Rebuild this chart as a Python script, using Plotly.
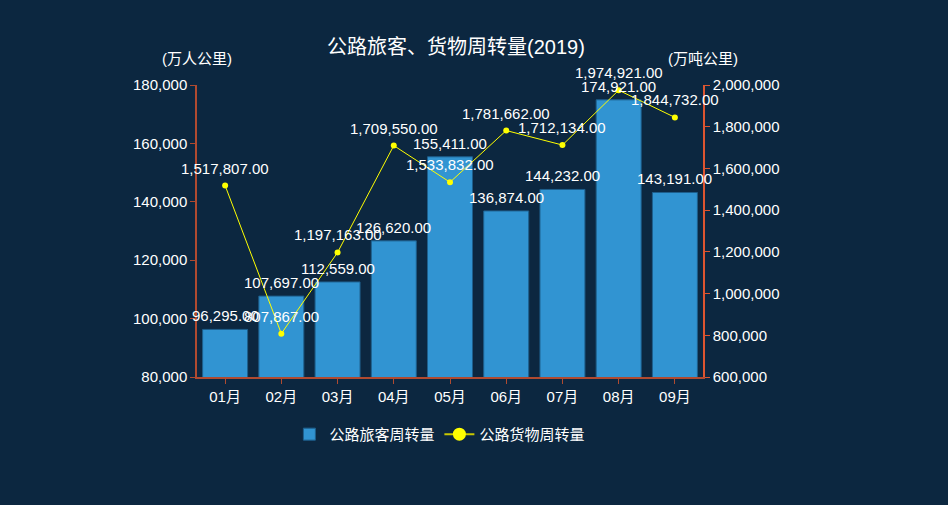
import plotly.graph_objects as go

months = ["01月", "02月", "03月", "04月", "05月", "06月", "07月", "08月", "09月"]
passenger = [96295, 107697, 112559, 126620, 155411, 136874, 144232, 174921, 143191]
freight = [1517807, 807867, 1197163, 1709550, 1533832, 1781662, 1712134, 1974921, 1844732]

bg = "#0c2740"
axis_left = "#b04a30"
axis_right = "#dd5530"
font_fam = "Liberation Sans, Noto Sans CJK SC, sans-serif"
FS = 15

fig = go.Figure()
fig.add_trace(go.Bar(
    x=months, y=passenger, name="公路旅客周转量",
    marker=dict(color="#3194d2", line=dict(color="#1e5f8c", width=1)),
    width=0.8, showlegend=True,
))
fig.add_trace(go.Scatter(
    x=months, y=freight, name="公路货物周转量", yaxis="y2",
    mode="lines+markers",
    line=dict(color="#ffff00", width=1),
    marker=dict(color="#ffff00", size=6),
    showlegend=False, cliponaxis=False,
))
# legend proxy for the line series (bigger symbol as in reference)
fig.add_trace(go.Scatter(
    x=[months[0]], y=[None], name="公路货物周转量", yaxis="y2",
    mode="lines+markers",
    line=dict(color="#c8c800", width=2),
    marker=dict(color="#ffff00", size=13),
    showlegend=True,
))

annotations = []
for m, v in zip(months, passenger):
    annotations.append(dict(x=m, y=v, xref="x", yref="y", text=f"{v:,.2f}",
                            showarrow=False, yanchor="bottom", yshift=3,
                            font=dict(size=FS, color="white")))
for m, v in zip(months, freight):
    annotations.append(dict(x=m, y=v, xref="x", yref="y2", text=f"{v:,.2f}",
                            showarrow=False, yanchor="bottom", yshift=7,
                            font=dict(size=FS, color="white")))
annotations += [
    dict(text="(万人公里)", xref="paper", yref="paper", x=0.0, y=1.0, yshift=27,
         xanchor="center", yanchor="middle", showarrow=False, font=dict(size=FS, color="white")),
    dict(text="(万吨公里)", xref="paper", yref="paper", x=1.0, y=1.0, yshift=27,
         xanchor="center", yanchor="middle", showarrow=False, font=dict(size=FS, color="white")),
]

fig.update_layout(
    width=948, height=505,
    paper_bgcolor=bg, plot_bgcolor=bg,
    font=dict(family=font_fam, color="white", size=FS),
    margin=dict(l=197, r=245, t=85, b=128),
    title=dict(text="公路旅客、货物周转量(2019)", x=0.481, xanchor="center", y=0.907, yanchor="middle",
               font=dict(size=20, color="white")),
    showlegend=True,
    legend=dict(orientation="h", x=0.48, xanchor="center", y=-0.14, yanchor="top",
                font=dict(size=FS, color="white"), bgcolor="rgba(0,0,0,0)"),
    bargap=0.2,
    xaxis=dict(type="category", categoryorder="array", categoryarray=months,
               range=[-0.5, len(months) - 0.5],
               showline=True, linecolor=axis_left, linewidth=1.5, ticks="outside", tickcolor=axis_left,
               ticklen=5, showgrid=False, tickfont=dict(color="white", size=FS)),
    yaxis=dict(range=[80000, 180000], dtick=20000, tickformat=",d", showgrid=False,
               showline=True, linecolor=axis_left, linewidth=1.5, ticks="outside", tickcolor=axis_left, ticklen=5,
               zeroline=False, tickfont=dict(color="white", size=FS)),
    yaxis2=dict(range=[600000, 2000000], dtick=200000, tickformat=",d", showgrid=False,
                overlaying="y", side="right",
                showline=True, linecolor=axis_right, linewidth=1.5, ticks="outside", tickcolor=axis_right, ticklen=5,
                zeroline=False, tickfont=dict(color="white", size=FS)),
    annotations=annotations,
)

fig.write_html("out.html")
